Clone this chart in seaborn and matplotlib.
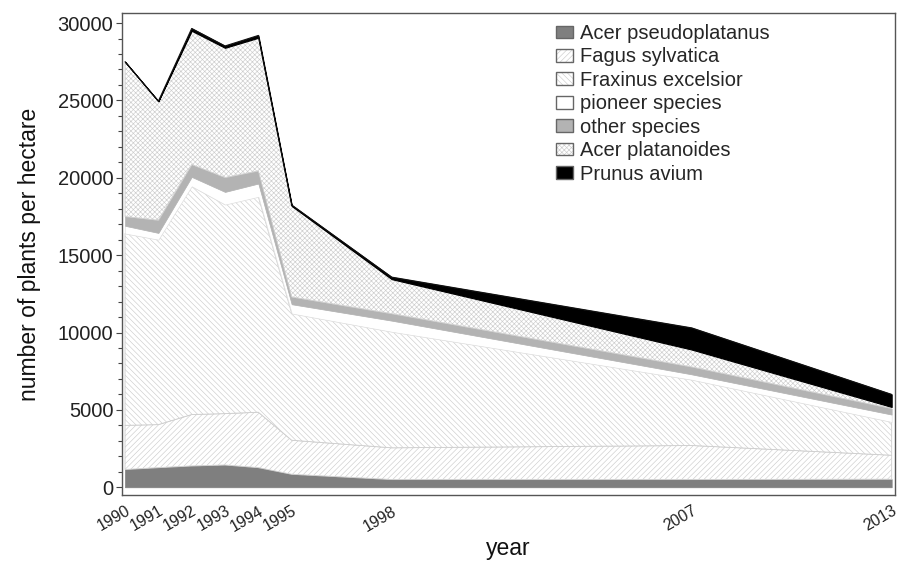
import numpy as np
import pandas as pd
import matplotlib
matplotlib.use("Agg")
import matplotlib.pyplot as plt
from matplotlib.patches import Patch
from matplotlib.legend_handler import HandlerTuple
import seaborn as sns

years = [1990, 1991, 1992, 1993, 1994, 1995, 1998, 2007, 2013]
acer_pseudoplatanus = [1150, 1270, 1380, 1440, 1270, 840, 500, 500, 520]
fagus_sylvatica = [2850, 2780, 3320, 3320, 3580, 2200, 2050, 2200, 1550]
fraxinus_excelsior = [12400, 11950, 14750, 13510, 13920, 8190, 7500, 4250, 2150]
pioneer_species = [500, 440, 610, 820, 860, 600, 720, 350, 480]
other_species = [600, 820, 800, 930, 820, 470, 450, 480, 390]
acer_platanoides = [10000, 7690, 8640, 8380, 8600, 5880, 2230, 1120, 100]
prunus_avium = [0, 0, 150, 120, 150, 60, 130, 1400, 810]

labels = ["Acer pseudoplatanus", "Fagus sylvatica", "Fraxinus excelsior",
          "pioneer species", "other species", "Acer platanoides", "Prunus avium"]
series = [acer_pseudoplatanus, fagus_sylvatica, fraxinus_excelsior,
          pioneer_species, other_species, acer_platanoides, prunus_avium]

df = pd.DataFrame({lab: s for lab, s in zip(labels, series)}, index=years)
cum = df.cumsum(axis=1)

sns.set_theme(style="white")
plt.rcParams["font.family"] = ["Liberation Sans", "DejaVu Sans"]
plt.rcParams["hatch.linewidth"] = 0.45

hatch_col = "#cdcdcd"
styles = [
    dict(facecolor="#7f7f7f", edgecolor="#7f7f7f", hatch=None, lw=0.5),
    dict(facecolor="white", edgecolor=hatch_col, hatch="//////", lw=0.6),
    dict(facecolor="white", edgecolor=hatch_col, hatch="\\\\\\\\\\\\", lw=0.6),
    dict(facecolor="white", edgecolor="#e0e0e0", hatch=None, lw=0.5),
    dict(facecolor="#b3b3b3", edgecolor="#b3b3b3", hatch=None, lw=0.5),
    dict(facecolor="white", edgecolor=hatch_col, hatch="xxxxxxx", lw=0.6),
    dict(facecolor="black", edgecolor="black", hatch=None, lw=0.8),
]

fig = plt.figure(figsize=(9.06, 5.62), dpi=100)
ax = fig.add_axes([121.7 / 906, 1 - 495 / 562, (895 - 121.7) / 906, (495 - 13) / 562])

x = np.array(years, dtype=float)
lower = np.zeros(len(years))
handles = []
for lab, st in zip(labels, styles):
    upper = cum[lab].values.astype(float)
    ax.fill_between(x, lower, upper, facecolor=st["facecolor"], edgecolor=st["edgecolor"],
                    hatch=st["hatch"], linewidth=st["lw"], zorder=2)
    lower = upper
    h_fill = Patch(facecolor=st["facecolor"], edgecolor=st["edgecolor"] if st["hatch"] else st["facecolor"],
                   hatch=st["hatch"], linewidth=0.5)
    h_border = Patch(facecolor="none", edgecolor="#666666", linewidth=1.0)
    handles.append((h_fill, h_border))

# outline of the total
tot = pd.DataFrame({"year": years, "total": cum[labels[-1]].values})
sns.lineplot(data=tot, x="year", y="total", color="#111111", lw=0.8, ax=ax, zorder=3)

ax.set_xlim(1989.9, 2013.1)
ax.set_ylim(-500, 30650)
ax.set_xticks(years)
ax.set_xticklabels([str(y) for y in years], rotation=30, ha="right",
                   rotation_mode="anchor", fontsize=11.5)
ax.set_yticks(np.arange(0, 30001, 5000))
ax.set_yticks(np.arange(0, 30001, 1000), minor=True)
ax.tick_params(axis="y", which="major", length=4.5, width=0.8, color="#444444",
               labelsize=14.5, pad=1.5, left=True, labelcolor="#222222")
ax.tick_params(axis="y", which="minor", length=3, width=0.8, color="#444444", left=True)
ax.tick_params(axis="x", which="both", length=0, pad=6, labelcolor="#222222")
for sp in ax.spines.values():
    sp.set_color("#555555")
    sp.set_linewidth(1.0)

ax.set_xlabel("year", fontsize=16.5, labelpad=2, color="#111111")
ax.set_ylabel("number of plants per hectare", fontsize=16.5, labelpad=12, color="#111111")

leg = ax.legend(handles, labels, handler_map={tuple: HandlerTuple(ndivide=1)},
                loc="upper left", bbox_to_anchor=(556 / 906, 1 - 24 / 562),
                bbox_transform=fig.transFigure, frameon=False, fontsize=14.5,
                handlelength=0.85, handleheight=0.6, handletextpad=0.35,
                labelspacing=0.22, borderpad=0, borderaxespad=0)

fig.savefig("out.png", dpi=100)
